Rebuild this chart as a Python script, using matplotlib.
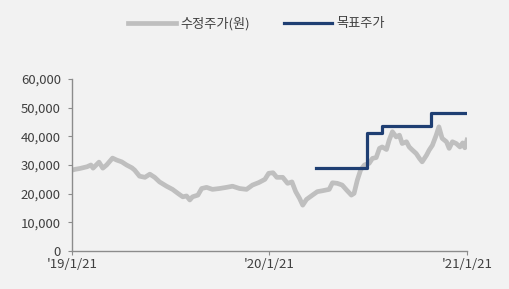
import matplotlib
matplotlib.use('Agg')
import matplotlib.pyplot as plt
import pandas as pd

plt.rcParams['font.family'] = ['Noto Sans CJK KR', 'DejaVu Sans']

# --- Data ---
PRICE_DATES = [
    '2019-01-21', '2019-01-27', '2019-02-05', '2019-02-18', '2019-02-25', '2019-03-01',
    '2019-03-12', '2019-03-19', '2019-03-26', '2019-04-06', '2019-04-14', '2019-04-23',
    '2019-05-02', '2019-05-12', '2019-05-17', '2019-05-26', '2019-06-05', '2019-06-14',
    '2019-06-23', '2019-07-02', '2019-07-15', '2019-07-26', '2019-08-05', '2019-08-14',
    '2019-08-21', '2019-08-27', '2019-09-01', '2019-09-11', '2019-09-18', '2019-09-27',
    '2019-10-08', '2019-10-21', '2019-11-03', '2019-11-14', '2019-11-27', '2019-12-10',
    '2019-12-21', '2020-01-02', '2020-01-13', '2020-01-20', '2020-01-28', '2020-02-04',
    '2020-02-15', '2020-02-24', '2020-03-03', '2020-03-10', '2020-03-17', '2020-03-23',
    '2020-03-30', '2020-04-10', '2020-04-19', '2020-04-28', '2020-05-11', '2020-05-17',
    '2020-05-26', '2020-06-04', '2020-06-12', '2020-06-21', '2020-06-26', '2020-07-02',
    '2020-07-08', '2020-07-15', '2020-07-24', '2020-07-30', '2020-08-06', '2020-08-12',
    '2020-08-17', '2020-08-25', '2020-08-30', '2020-09-05', '2020-09-12', '2020-09-18',
    '2020-09-23', '2020-10-01', '2020-10-06', '2020-10-12', '2020-10-19', '2020-10-25',
    '2020-10-30', '2020-11-07', '2020-11-12', '2020-11-18', '2020-11-25', '2020-11-30',
    '2020-12-06', '2020-12-14', '2020-12-19', '2020-12-25', '2021-01-01', '2021-01-08',
    '2021-01-13', '2021-01-17', '2021-01-21',
]
PRICE_VALUES = [
    28200, 28500, 28800, 29400, 30000, 28900,
    31000, 28900, 30000, 32400, 31700, 31100,
    30000, 29000, 28200, 26100, 25700, 26800,
    25700, 24100, 22600, 21500, 20100, 18900,
    19200, 17800, 18900, 19500, 21800, 22200,
    21500, 21800, 22200, 22600, 21800, 21500,
    23000, 23900, 25000, 27100, 27300, 25700,
    25700, 23600, 24100, 20700, 18400, 16000,
    18000, 19500, 20700, 21000, 21500, 23800,
    23600, 23000, 21300, 19500, 20100, 24700,
    28200, 30000, 30600, 32300, 32600, 35800,
    36300, 35400, 38700, 41600, 39800, 40400,
    37500, 38100, 36300, 35200, 34000, 32300,
    31100, 33400, 35200, 36900, 40400, 43300,
    39300, 38100, 35800, 38100, 37500, 36300,
    37700, 36000, 38700,
]

TARGET_DATES = ['2020-04-17', '2020-07-20', '2020-08-17', '2020-11-16', '2021-01-21']
TARGET_VALUES = [29000, 41000, 43500, 48000, 48000]

XTICK_DATES = ['2019-01-21', '2020-01-21', '2021-01-21']
XTICK_LABELS = ["'19/1/21", "'20/1/21", "'21/1/21"]
YTICKS = [0, 10000, 20000, 30000, 40000, 50000, 60000]

BG = '#f2f2f2'
TEXT = '#404040'
AXIS = '#8c8c8c'


def main():
    price_dates = pd.to_datetime(PRICE_DATES)
    target_dates = pd.to_datetime(TARGET_DATES)
    xtick_dates = pd.to_datetime(XTICK_DATES)

    fig = plt.figure(figsize=(5.10, 2.89), dpi=100, facecolor=BG)
    ax = fig.add_axes([72 / 510, 38 / 289, 395 / 510, 172 / 289])
    ax.set_facecolor(BG)

    ax.plot(price_dates, PRICE_VALUES, color='#bfbfbf', linewidth=3.4,
            solid_joinstyle='round', label='수정주가(원)', zorder=2)
    ax.step(target_dates, TARGET_VALUES, where='post', color='#1f3f73',
            linewidth=2.3, label='목표주가', zorder=3)

    ax.set_xlim(xtick_dates[0], xtick_dates[-1])
    ax.set_ylim(0, 60000)
    ax.set_yticks(YTICKS)
    ax.set_yticklabels([f'{v:,}' for v in YTICKS])
    ax.set_xticks(xtick_dates)
    ax.set_xticklabels(XTICK_LABELS)

    for side in ['top', 'right']:
        ax.spines[side].set_visible(False)
    for side in ['left', 'bottom']:
        ax.spines[side].set_color(AXIS)
        ax.spines[side].set_linewidth(1.0)

    ax.tick_params(axis='y', direction='out', length=3, color=AXIS,
                   labelsize=9.5, labelcolor=TEXT, pad=5)
    ax.tick_params(axis='x', direction='out', length=3, color=AXIS,
                   labelsize=9.5, labelcolor=TEXT, pad=2)

    fig.legend(loc='center', bbox_to_anchor=(0.503, 0.918), ncol=2, frameon=False,
               fontsize=9.5, labelcolor=TEXT, handlelength=3.6, handletextpad=0.35,
               columnspacing=2.6)

    fig.savefig('out.png', dpi=100, facecolor=BG)


if __name__ == '__main__':
    main()
